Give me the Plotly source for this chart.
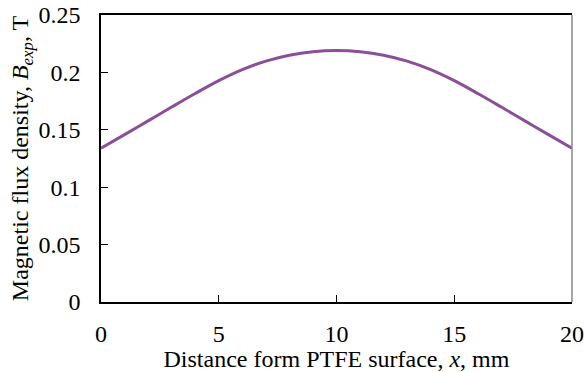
import plotly.graph_objects as go

distance_mm = [0, 1, 2, 3, 4, 5, 6, 7, 8, 9, 10, 11, 12, 13, 14, 15, 16, 17, 18, 19, 20]
flux_density_T = [0.134, 0.1458, 0.1578, 0.1698, 0.1816, 0.1928, 0.2024, 0.2098, 0.2150, 0.2180, 0.219,
                  0.2180, 0.2150, 0.2098, 0.2024, 0.1928, 0.1816, 0.1698, 0.1578, 0.1458, 0.134]
x_ticks = [0, 5, 10, 15, 20]
y_ticks = [0, 0.05, 0.1, 0.15, 0.2, 0.25]
y_tick_labels = ["0", "0.05", "0.1", "0.15", "0.2", "0.25"]

font = dict(family="Liberation Serif, Times New Roman, serif", size=24, color="black")

fig = go.Figure()
fig.add_trace(go.Scatter(x=distance_mm, y=flux_density_T, mode="lines",
                         line=dict(color="#8a4f97", width=3, shape="spline"),
                         showlegend=False))

fig.update_layout(
    width=584, height=372,
    margin=dict(l=101, r=12, t=15, b=70),
    paper_bgcolor="white", plot_bgcolor="white",
    font=font,
    xaxis=dict(range=[0, 20], tickvals=x_ticks, ticks="inside", ticklen=7,
               tickcolor="black", showline=True, linecolor="black", linewidth=1.5,
               mirror=True, showgrid=False, zeroline=False, automargin=False,
               tickfont=font, ticklabelstandoff=9, ticklabeloverflow="allow",
               title=dict(text="Distance form PTFE surface, <i>x</i>, mm", standoff=0, font=font)),
    yaxis=dict(range=[0, 0.25], tickvals=y_ticks, ticktext=y_tick_labels, ticks="inside",
               ticklen=7, tickcolor="black", showline=True, linecolor="black", linewidth=1.5,
               showgrid=False, zeroline=False, automargin=False, tickfont=font,
               ticklabelstandoff=14, ticklabeloverflow="allow",
               title=dict(text="Magnetic flux density, <i>B</i><sub><i>exp</i></sub>, T",
                          standoff=3, font=font)),
    shapes=[dict(type="line", xref="paper", yref="paper", x0=1, x1=1, y0=0, y1=1,
                 line=dict(color="#888888", width=1.5))],
)

fig.write_html("out.html", config={"displayModeBar": False},
               post_script="document.body.style.margin='0';")
